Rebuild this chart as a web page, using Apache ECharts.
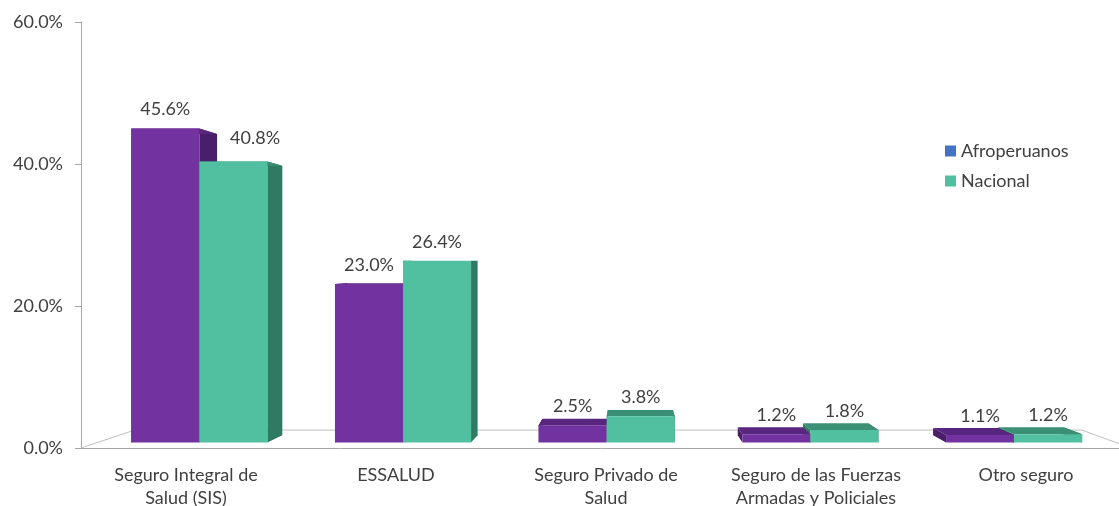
<!DOCTYPE html>
<html>
<head>
<meta charset="utf-8">
<script src="https://cdn.jsdelivr.net/npm/echarts@6/dist/echarts.min.js"></script>
<style>
  html, body { margin: 0; padding: 0; background: #fff; }
  #chart { width: 1119px; height: 506px; }
</style>
</head>
<body>
<div id="chart"></div>
<script>
var categories = ['Seguro Integral de\nSalud (SIS)', 'ESSALUD', 'Seguro Privado de\nSalud', 'Seguro de las Fuerzas\nArmadas y Policiales', 'Otro seguro']
var afroperuanos = [45.6, 23.0, 2.5, 1.2, 1.1]
var nacional = [40.8, 26.4, 3.8, 1.8, 1.2]
var yTicks = [0, 20, 40, 60]

var FONT = 'Lato'
var TEXT = '#404040'
var purple = { front: '#7232A0', side: '#4A1F6A', top: '#58267E' }
var teal = { front: '#50C0A0', side: '#2E7A62', top: '#3A8F74' }

// simple perspective: points are pulled towards a vanishing point
var VX = 630
var VY = 265
var K_FLOOR = 0.902
var K_FRONT = 0.97
var K_BACK = 0.93
var BAR_RATIO = 0.334

function proj (x, y, k) {
  return [VX + (x - VX) * k, VY + (y - VY) * k]
}

function poly (pts, fill, z2) {
  return { type: 'polygon', shape: { points: pts }, style: { fill: fill }, z2: z2 }
}

function barRenderer (side, pal) {
  return function (params, api) {
    var cat = api.value(0)
    var val = api.value(1)
    var band = api.size([1, 0])[0]
    var top = api.coord([cat, val])
    var base = api.coord([cat, 0])
    var w = band * BAR_RATIO
    var xl = side === 0 ? top[0] - w : top[0]
    var xr = xl + w
    var yt = top[1]
    var yb = base[1]
    var f = function (x, y) { return proj(x, y, K_FRONT) }
    var b = function (x, y) { return proj(x, y, K_BACK) }

    var ft = f(xl, yt)
    var lx = (f(xl, yt)[0] + f(xr, yt)[0]) / 2
    var ly = ft[1] - 19
    var align = 'center'
    // label of the second bar moves aside when the first bar is taller
    if (side === 1) {
      var other = proj(0, api.coord([cat, afroperuanos[cat]])[1], K_FRONT)[1]
      if (other < ly + 9) {
        lx = b(xl, yt)[0] + 13
        ly = ft[1] - 23
        align = 'left'
      }
    }

    return {
      type: 'group',
      children: [
        poly([f(xl, yt), f(xl, yb), b(xl, yb), b(xl, yt)], pal.side, 1),
        poly([f(xr, yt), f(xr, yb), b(xr, yb), b(xr, yt)], pal.side, 1),
        poly([f(xl, yt), f(xr, yt), b(xr, yt), b(xl, yt)], pal.top, 2),
        poly([f(xl, yt), f(xr, yt), f(xr, yb), f(xl, yb)], pal.front, 3),
        {
          type: 'text',
          x: lx,
          y: ly,
          z2: 5,
          style: {
            text: val.toFixed(1) + '%',
            fill: TEXT,
            fontSize: 18,
            fontFamily: FONT,
            align: align,
            verticalAlign: 'middle'
          }
        }
      ]
    }
  }
}

function floorRenderer (params, api) {
  var cs = params.coordSys
  var y0 = api.coord([0, 0])[1]
  var fl = [cs.x, y0]
  var fr = [cs.x + cs.width, y0]
  return {
    type: 'polyline',
    shape: { points: [fl, proj(fl[0], fl[1], K_FLOOR), proj(fr[0], fr[1], K_FLOOR), fr] },
    style: { stroke: '#BFBFBF', lineWidth: 1, fill: null },
    z2: 0
  }
}

var chart = echarts.init(document.getElementById('chart'), null, { renderer: 'canvas' })

var option = {
  animation: false,
  grid: {
    left: 81,
    top: 22,
    width: 1050,
    bottom: 58,
    outerBoundsMode: 'none'
  },
  legend: {
    data: ['Afroperuanos', 'Nacional'],
    orient: 'vertical',
    left: 940,
    top: 137,
    icon: 'rect',
    itemWidth: 11,
    itemHeight: 11,
    itemGap: 12,
    textStyle: { fontSize: 18, fontFamily: FONT, color: TEXT }
  },
  xAxis: {
    type: 'category',
    data: categories,
    axisLine: { lineStyle: { color: '#A6A6A6' } },
    axisTick: { length: 6, lineStyle: { color: '#A6A6A6' } },
    axisLabel: {
      interval: 0,
      margin: 16,
      fontSize: 18,
      lineHeight: 23,
      fontFamily: FONT,
      color: TEXT
    }
  },
  yAxis: {
    type: 'value',
    min: yTicks[0],
    max: yTicks[yTicks.length - 1],
    interval: 20,
    axisLine: { show: true, lineStyle: { color: '#A6A6A6' } },
    axisTick: { show: true, length: 6, lineStyle: { color: '#A6A6A6' } },
    splitLine: { show: false },
    axisLabel: {
      margin: 18,
      fontSize: 18,
      fontFamily: FONT,
      color: TEXT,
      formatter: function (v) { return v.toFixed(1) + '%' }
    }
  },
  series: [
    {
      name: 'floor',
      type: 'custom',
      silent: true,
      renderItem: floorRenderer,
      data: [[0, 0]]
    },
    {
      name: 'Afroperuanos',
      type: 'custom',
      itemStyle: { color: '#4472C4' },
      renderItem: barRenderer(0, purple),
      encode: { x: 0, y: 1 },
      data: afroperuanos.map(function (v, i) { return [i, v] })
    },
    {
      name: 'Nacional',
      type: 'custom',
      itemStyle: { color: teal.front },
      renderItem: barRenderer(1, teal),
      encode: { x: 0, y: 1 },
      data: nacional.map(function (v, i) { return [i, v] })
    }
  ]
}

chart.setOption(option)
</script>
</body>
</html>
